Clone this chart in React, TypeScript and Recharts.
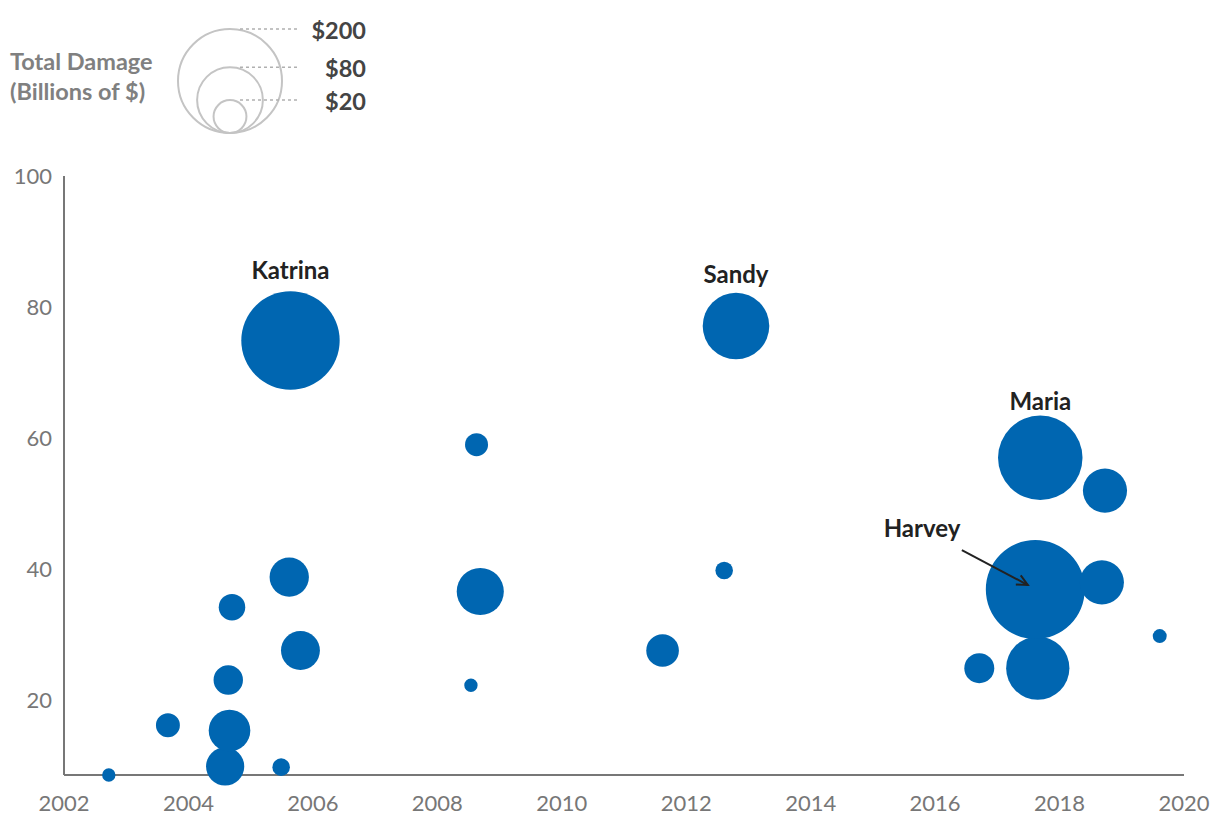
import { ScatterChart, Scatter, XAxis, YAxis, ZAxis, ReferenceDot, ReferenceLine } from 'recharts';

// storm positions
const years = [2002.72, 2003.67, 2004.59, 2004.66, 2004.64, 2004.7, 2005.49, 2005.62, 2005.64, 2005.8, 2008.54, 2008.63, 2008.69, 2011.62, 2012.61, 2012.8, 2016.71, 2017.65, 2017.61, 2017.69, 2018.68, 2018.73, 2019.61];
const values = [8.6, 16.2, 9.9, 15.4, 23.1, 34.2, 9.8, 38.8, 74.9, 27.6, 22.3, 59.0, 36.6, 27.6, 39.8, 77.1, 24.9, 24.9, 36.9, 57.0, 38.0, 52.0, 29.8];
const damage = [3.3, 10.6, 27, 32, 16, 13, 5.7, 28.6, 179, 28, 3.3, 9.8, 41, 19.7, 5.7, 82, 16.6, 74, 181, 132, 36, 36, 3.6];

const xTicks = [2002, 2004, 2006, 2008, 2010, 2012, 2014, 2016, 2018, 2020];
const yTicks = [20, 40, 60, 80, 100];

const labelNames = ['Katrina', 'Sandy', 'Maria', 'Harvey'];
const labelX = [2005.64, 2012.8, 2017.69, 2015.79];
const labelY = [85.66, 85.05, 65.82, 46.44];

const arrowFrom = { x: 2016.43, y: 42.93 };
const arrowTo = { x: 2017.49, y: 37.59 };

const legendValues = [200, 80, 20];
const legendLabels = ['$200', '$80', '$20'];

const BLUE = '#0066b1';
const AXIS = '#777777';
const MAX_DAMAGE = 200;
const MAX_AREA = Math.PI * 52 * 52;
const rFor = (v: number) => Math.sqrt(((v / MAX_DAMAGE) * MAX_AREA) / Math.PI);

const data = years.map((x, i) => ({ x, y: values[i], z: damage[i] }));

function Arrow(props: any) {
  const { x1, y1, x2, y2 } = props;
  const a = Math.atan2(y2 - y1, x2 - x1);
  const len = 12;
  const spread = 0.45;
  const p1 = [x2 - len * Math.cos(a - spread), y2 - len * Math.sin(a - spread)];
  const p2 = [x2 - len * Math.cos(a + spread), y2 - len * Math.sin(a + spread)];
  return (
    <g stroke="#222" strokeWidth={2} fill="none">
      <line x1={x1} y1={y1} x2={x2} y2={y2} />
      <polyline points={`${p1[0]},${p1[1]} ${x2},${y2} ${p2[0]},${p2[1]}`} />
    </g>
  );
}

function SizeLegend() {
  const cx = 230;
  const bottom = 133;
  return (
    <svg width={400} height={150} style={{ position: 'absolute', left: 0, top: 0 }}>
      <text x={10} y={70} fontSize={23.5} fontWeight={700} fill="#808080">Total Damage</text>
      <text x={10} y={100} fontSize={23.5} fontWeight={700} fill="#808080">(Billions of $)</text>
      {legendValues.map((v, i) => {
        const r = rFor(v);
        const top = bottom - 2 * r;
        return (
          <g key={v}>
            <circle cx={cx} cy={bottom - r} r={r} fill="none" stroke="#c4c4c4" strokeWidth={2} />
            <line x1={cx + 10} x2={298} y1={top} y2={top} stroke="#b0b0b0" strokeWidth={1.5} strokeDasharray="3 3" />
            <text x={366} y={top + 10} textAnchor="end" fontSize={23.5} fontWeight={700} fill="#444">
              {legendLabels[i]}
            </text>
          </g>
        );
      })}
    </svg>
  );
}

export default function App() {
  return (
    <div style={{ position: 'absolute', left: 0, top: 0, width: 1220, height: 830, fontFamily: 'Lato', background: '#fff' }}>
      <ScatterChart width={1220} height={830} margin={{ top: 176, right: 36, bottom: 0, left: 0 }}>
        <XAxis
          type="number"
          dataKey="x"
          domain={[2002, 2020]}
          ticks={xTicks}
          tickLine={false}
          tickMargin={14}
          height={55}
          stroke={AXIS}
          strokeWidth={2}
          tick={{ fill: AXIS, fontSize: 22 }}
        />
        <YAxis
          type="number"
          dataKey="y"
          domain={[8.6, 100]}
          ticks={yTicks}
          tickLine={false}
          tickMargin={6}
          width={64}
          stroke={AXIS}
          strokeWidth={2}
          tick={{ fill: AXIS, fontSize: 22 }}
        />
        <ZAxis type="number" dataKey="z" domain={[0, MAX_DAMAGE]} range={[0, MAX_AREA]} />
        <Scatter data={data} fill={BLUE} isAnimationActive={false} />
        <ReferenceLine segment={[arrowFrom, arrowTo]} shape={Arrow} zIndex={2000} />
        {labelNames.map((name, i) => (
          <ReferenceDot
            key={name}
            x={labelX[i]}
            y={labelY[i]}
            r={0}
            zIndex={2000}
            shape={(p: any) => (
              <text x={p.cx} y={p.cy} textAnchor="middle" dominantBaseline="central" fontSize={24} fontWeight={700} fill="#222">
                {name}
              </text>
            )}
          />
        ))}
      </ScatterChart>
      <SizeLegend />
    </div>
  );
}
